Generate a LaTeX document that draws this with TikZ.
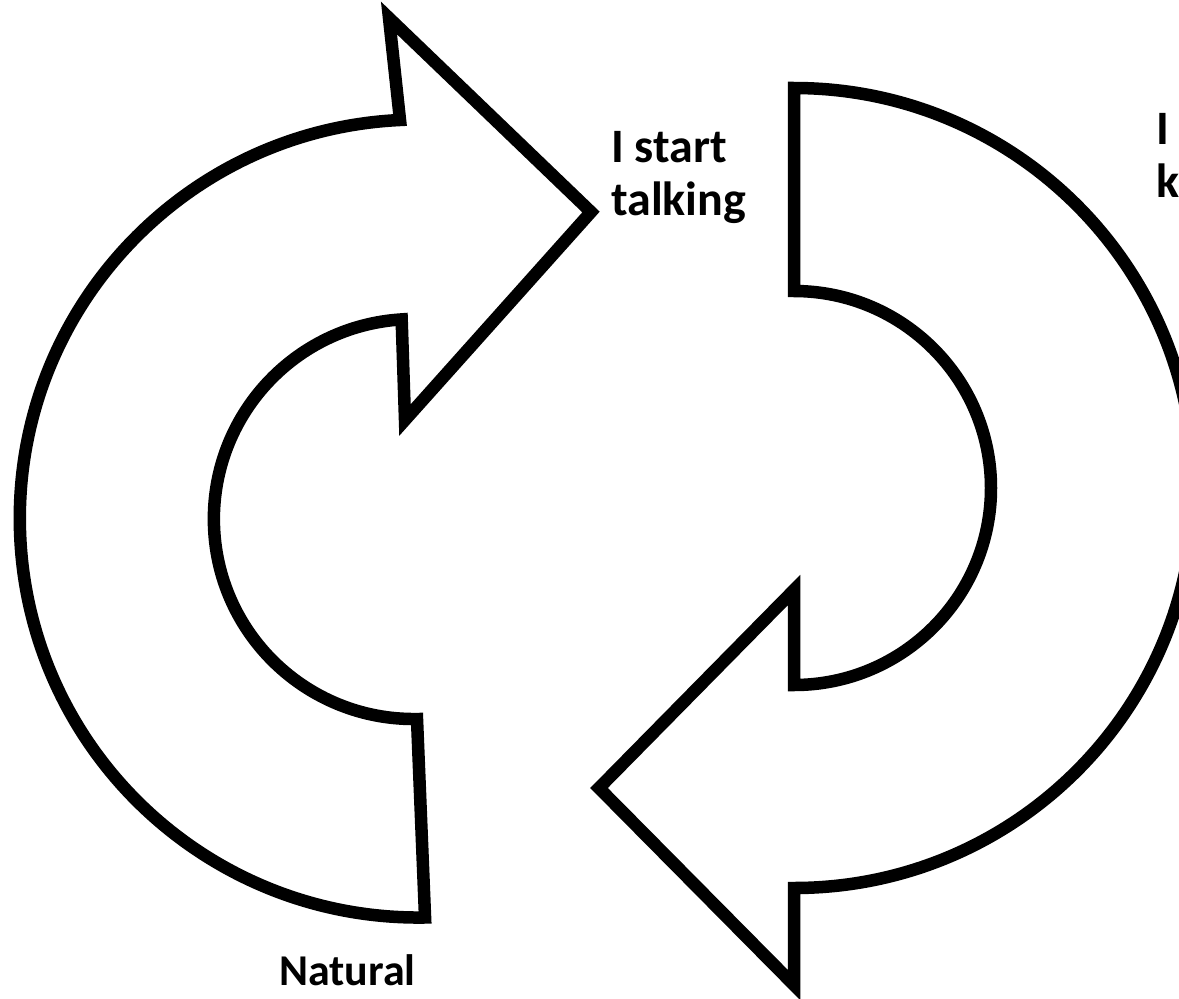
\documentclass[tikz,border=0pt]{standalone}
\usepackage{fontspec}
\setmainfont{Carlito}
\tikzset{
  cyclearrow/.style={draw=black, line width=12.5pt, line join=miter, miter limit=10, fill=white},
  lbl/.style={inner sep=0pt, anchor=base west, align=left, font=\bfseries\fontsize{44}{53}\selectfont},
  biglbl/.style={lbl, font=\bfseries\fontsize{48}{53}\selectfont}
}
\begin{document}
\begin{tikzpicture}[x=1pt,y=1pt]
\useasboundingbox[fill=white] (0,0) rectangle (1179,-999);
% left circular arrow (pointing up-right)
\draw[cyclearrow] (400,-120) arc[start angle=92.7, end angle=270.9, radius=399]
  -- (417,-719) arc[start angle=270.9, end angle=93.5, radius=200]
  -- (405,-420) -- (591,-212) -- (389,-18) -- cycle;
% right circular arrow (pointing down-left)
\draw[cyclearrow] (794,-88) -- (794,-291)
  arc[start angle=90, end angle=-90, radius=197]
  -- (794,-590) -- (599,-788) -- (794,-985) -- (794,-888)
  arc[start angle=-90, end angle=90, radius=400] -- cycle;
\node[biglbl] (start) at (611,-215) {I start\\talking};
\node[biglbl] (keep) at (1156,-197) {I\\k};
\node[lbl] (natural) at (279,-985) {Natural};
\end{tikzpicture}
\end{document}
